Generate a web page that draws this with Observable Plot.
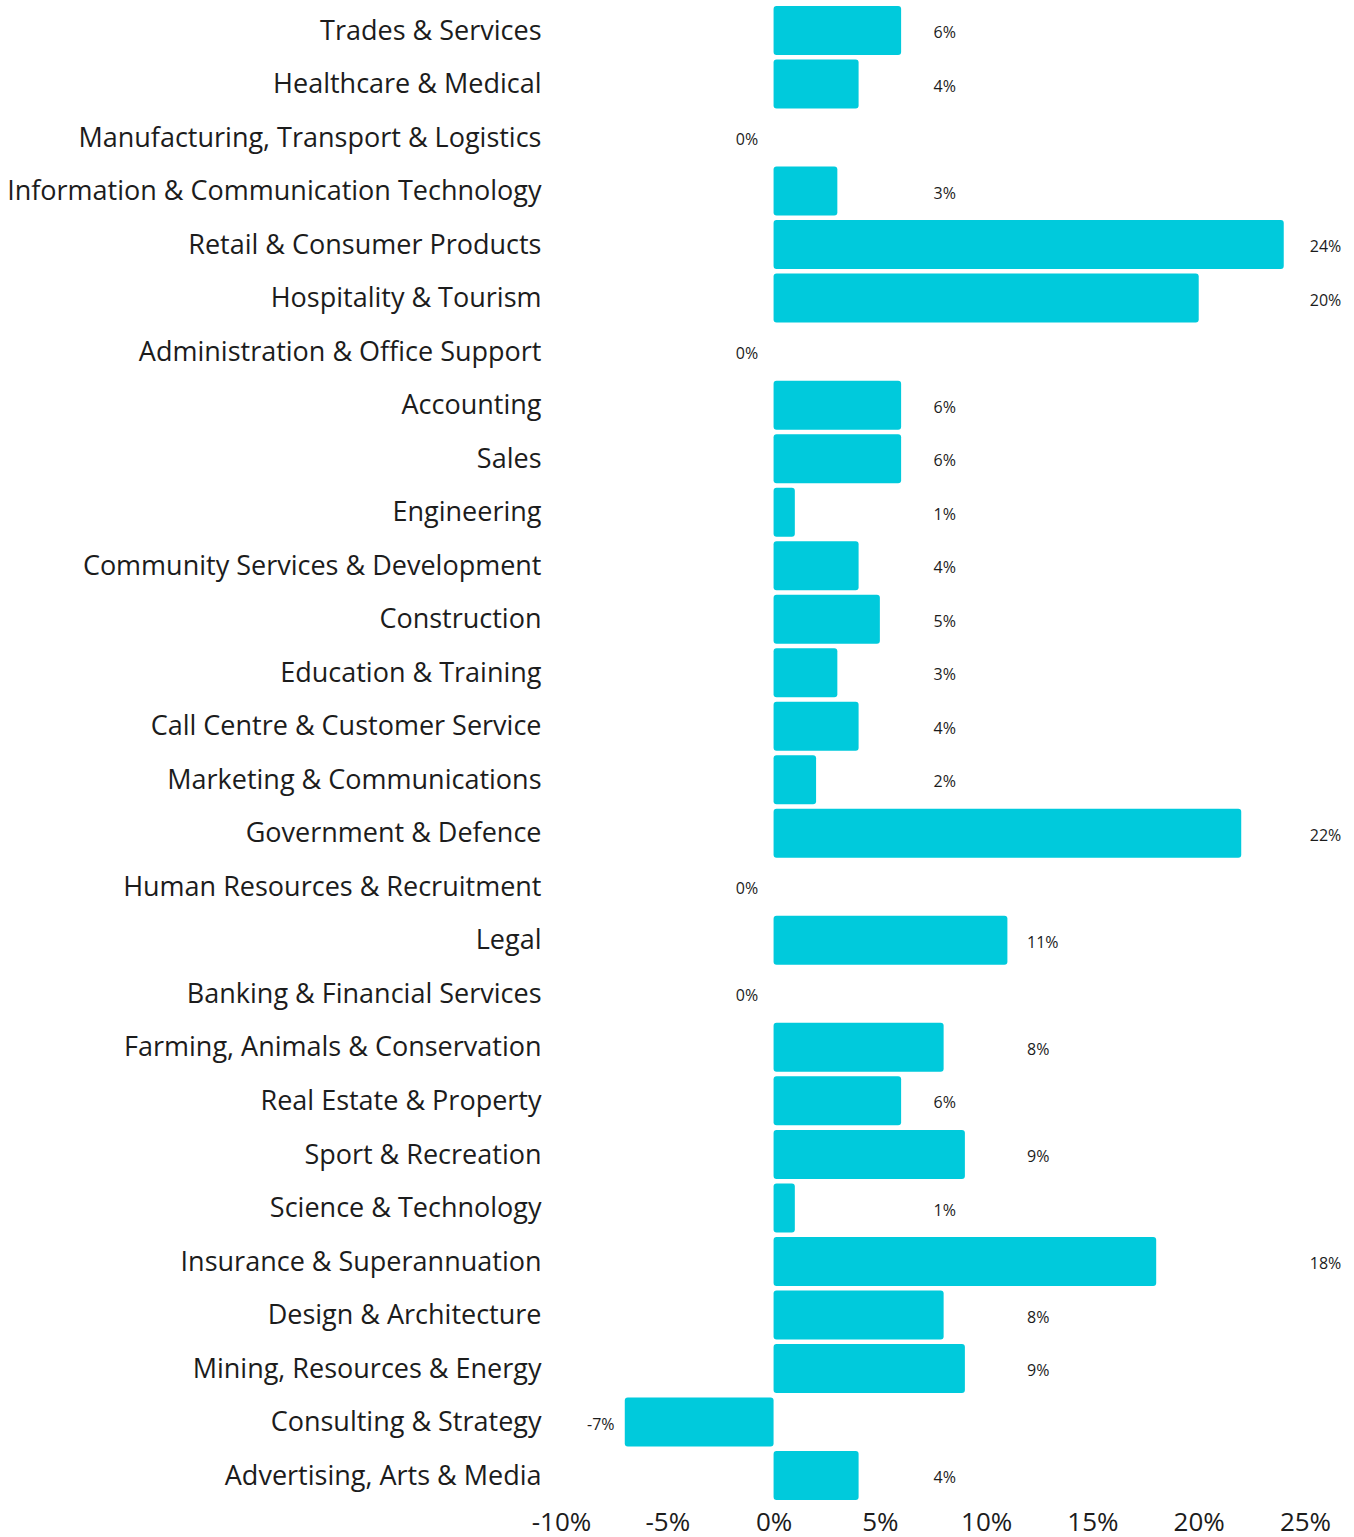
<!DOCTYPE html>
<html>
<head>
<meta charset="utf-8">
<script src="https://cdn.jsdelivr.net/npm/d3@7"></script>
<script src="https://cdn.jsdelivr.net/npm/@observablehq/plot@0.6"></script>
<style>
  html, body { margin: 0; padding: 0; background: #fff; }
  #chart svg { display: block; }
  #chart g[aria-label^="y-axis"], #chart g[aria-label^="y-axis"] text { font-size: 27px; }
</style>
</head>
<body>
<div id="chart"></div>
<script>
const categories = [
  "Trades & Services",
  "Healthcare & Medical",
  "Manufacturing, Transport & Logistics",
  "Information & Communication Technology",
  "Retail & Consumer Products",
  "Hospitality & Tourism",
  "Administration & Office Support",
  "Accounting",
  "Sales",
  "Engineering",
  "Community Services & Development",
  "Construction",
  "Education & Training",
  "Call Centre & Customer Service",
  "Marketing & Communications",
  "Government & Defence",
  "Human Resources & Recruitment",
  "Legal",
  "Banking & Financial Services",
  "Farming, Animals & Conservation",
  "Real Estate & Property",
  "Sport & Recreation",
  "Science & Technology",
  "Insurance & Superannuation",
  "Design & Architecture",
  "Mining, Resources & Energy",
  "Consulting & Strategy",
  "Advertising, Arts & Media"
];
const values = [6, 4, 0, 3, 24, 20, 0, 6, 6, 1, 4, 5, 3, 4, 2, 22, 0, 11, 0, 8, 6, 9, 1, 18, 8, 9, -7, 4];
const xTicks = [-10, -5, 0, 5, 10, 15, 20, 25];

const data = categories.map((name, i) => ({name, value: values[i]}));

// value labels sit in columns, as in the original chart
const labelX = v => v <= 0 ? v - 1.8 : v <= 6 ? 7.5 : v <= 11 ? 11.9 : 25.2;

const chart = Plot.plot({
  width: 1354,
  height: 1537,
  marginLeft: 561,
  marginRight: 49,
  marginTop: 1.5,
  marginBottom: 32.5,
  style: {fontFamily: "'Open Sans', Lato, sans-serif", fontSize: "26px", color: "#1c1c1c", background: "#fff", overflow: "visible"},
  x: {domain: [-10, 25], ticks: xTicks, tickFormat: d => d + "%", tickSize: 0, tickPadding: 8, label: null},
  y: {domain: categories, padding: 0.0845, round: false, tickSize: 0, tickPadding: 20, label: null},
  marks: [
    Plot.barX(data, {x: "value", y: "name", fill: "#00CADC", rx: 3}),
    Plot.text(data, {x: d => labelX(d.value), y: "name", text: d => d.value + "%", textAnchor: "start", fontSize: 16, dy: 2, fill: "#1c1c1c"})
  ]
});
document.getElementById("chart").appendChild(chart);
</script>
</body>
</html>
